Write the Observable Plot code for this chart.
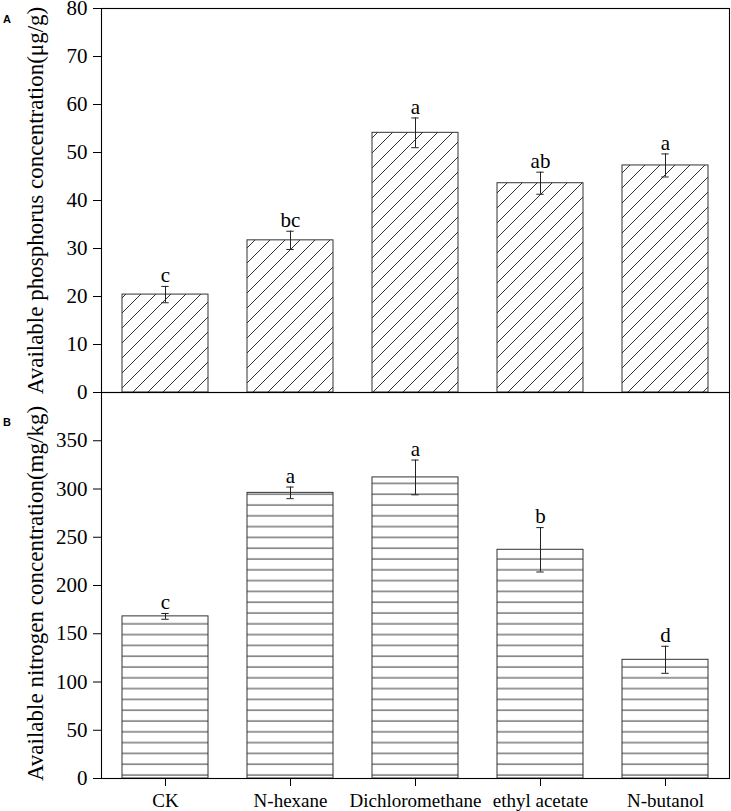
<!DOCTYPE html>
<html>
<head>
<meta charset="utf-8">
<script src="https://cdn.jsdelivr.net/npm/d3@7"></script>
<script src="https://cdn.jsdelivr.net/npm/@observablehq/plot@0.6"></script>
<style>
  html, body { margin: 0; padding: 0; background: white; }
  #wrap { position: relative; width: 731px; height: 811px; }
  #wrap svg { position: absolute; left: 0; }
  #wrap svg text { font-family: "Liberation Serif", "Times New Roman", serif; }
  .panel { position: absolute; font: bold 11px "Liberation Sans", sans-serif; line-height: 1; color: black; }
</style>
</head>
<body>
<div id="wrap">
  <div class="panel" style="left:3px; top:14px;">A</div>
  <div class="panel" style="left:3px; top:417px;">B</div>
</div>
<script>
// ---- data ----
const categories = ["CK", "N-hexane", "Dichloromethane", "ethyl acetate", "N-butanol"];
const phosMean = [20.4, 31.7, 54.1, 43.6, 47.3];
const phosErr = [1.7, 1.9, 3.1, 2.3, 2.4];
const phosLetters = ["c", "bc", "a", "ab", "a"];
const phosTicks = [0, 10, 20, 30, 40, 50, 60, 70, 80];
const phosTitle = "Available phosphorus concentration(μg/g)";

const nitroMean = [168, 296, 312, 237, 123];
const nitroErr = [3, 6, 18, 23, 14];
const nitroLetters = ["c", "a", "a", "b", "d"];
const nitroTicks = [0, 50, 100, 150, 200, 250, 300, 350];
const nitroTitle = "Available nitrogen concentration(mg/kg)";

const dataA = categories.map((c, i) => ({cat: c, mean: phosMean[i], err: phosErr[i], letter: phosLetters[i]}));
const dataB = categories.map((c, i) => ({cat: c, mean: nitroMean[i], err: nitroErr[i], letter: nitroLetters[i]}));

const SERIF = "Liberation Serif";
const baseStyle = {fontFamily: SERIF, fontSize: "21px", background: "transparent", color: "black", overflow: "visible"};
const xOpts = {domain: categories, paddingInner: 0.31, paddingOuter: 0.155};
const capInset = 39.3;

function panelMarks(data, ticks, title, fill, titleDy) {
  return [
    Plot.barY(data, {x: "cat", y: "mean", fill: fill, stroke: "#333", strokeWidth: 1}),
    Plot.ruleX(data, {x: "cat", y1: d => d.mean - d.err, y2: d => d.mean + d.err, stroke: "#222", strokeWidth: 1}),
    Plot.tickY(data, {x: "cat", y: d => d.mean - d.err, inset: capInset, stroke: "#222", strokeWidth: 1}),
    Plot.tickY(data, {x: "cat", y: d => d.mean + d.err, inset: capInset, stroke: "#222", strokeWidth: 1}),
    Plot.text(data, {x: "cat", y: d => d.mean + d.err, text: "letter", dy: -11, fontSize: 21, fontFamily: SERIF, fill: "black"}),
    Plot.axisY({ticks: ticks, tickSize: 8, tickPadding: 6, label: null, fontSize: 21, fontFamily: SERIF, stroke: "black", fill: "black"}),
    Plot.text([title], {text: d => d, frameAnchor: "left", rotate: -90, dx: -66, dy: titleDy, fontSize: 23, fontFamily: SERIF, textAnchor: "middle", fill: "black"}),
    Plot.frame({stroke: "black", strokeWidth: 1.1})
  ];
}

const topSvg = Plot.plot({
  width: 731, height: 420,
  marginLeft: 101, marginRight: 2, marginTop: 8, marginBottom: 28,
  style: baseStyle,
  x: {...xOpts, axis: null},
  y: {domain: [0, 80]},
  marks: panelMarks(dataA, phosTicks, phosTitle, "url(#hatchDiag)", 0)
});

const bottomSvg = Plot.plot({
  width: 731, height: 419,
  marginLeft: 101, marginRight: 2, marginTop: 0, marginBottom: 33,
  style: baseStyle,
  x: {...xOpts},
  y: {domain: [0, 400]},
  marks: [
    ...panelMarks(dataB, nitroTicks, nitroTitle, "url(#hatchHoriz)", 8),
    Plot.axisX({tickSize: 8, tickPadding: 7, label: null, fontSize: 19, fontFamily: SERIF, stroke: "black", fill: "black"})
  ]
});

// hatch patterns
(function () {
  const defs = d3.select(topSvg).insert("defs", ":first-child");
  const p = defs.append("pattern").attr("id", "hatchDiag").attr("patternUnits", "userSpaceOnUse")
    .attr("width", 15).attr("height", 15);
  p.append("rect").attr("width", 15).attr("height", 15).attr("fill", "white");
  p.append("path").attr("d", "M0,15L15,0M-3.75,3.75L3.75,-3.75M11.25,18.75L18.75,11.25")
    .attr("stroke", "#333").attr("stroke-width", 1).attr("fill", "none");
})();
(function () {
  const defs = d3.select(bottomSvg).insert("defs", ":first-child");
  const p = defs.append("pattern").attr("id", "hatchHoriz").attr("patternUnits", "userSpaceOnUse")
    .attr("width", 20).attr("height", 10.8);
  p.append("rect").attr("width", 20).attr("height", 10.8).attr("fill", "white");
  p.append("line").attr("x1", 0).attr("x2", 20).attr("y1", 5).attr("y2", 5)
    .attr("stroke", "#333").attr("stroke-width", 1);
})();

const wrap = document.getElementById("wrap");
topSvg.style.top = "0px";
bottomSvg.style.top = "392px";
wrap.prepend(bottomSvg);
wrap.prepend(topSvg);
</script>
</body>
</html>
